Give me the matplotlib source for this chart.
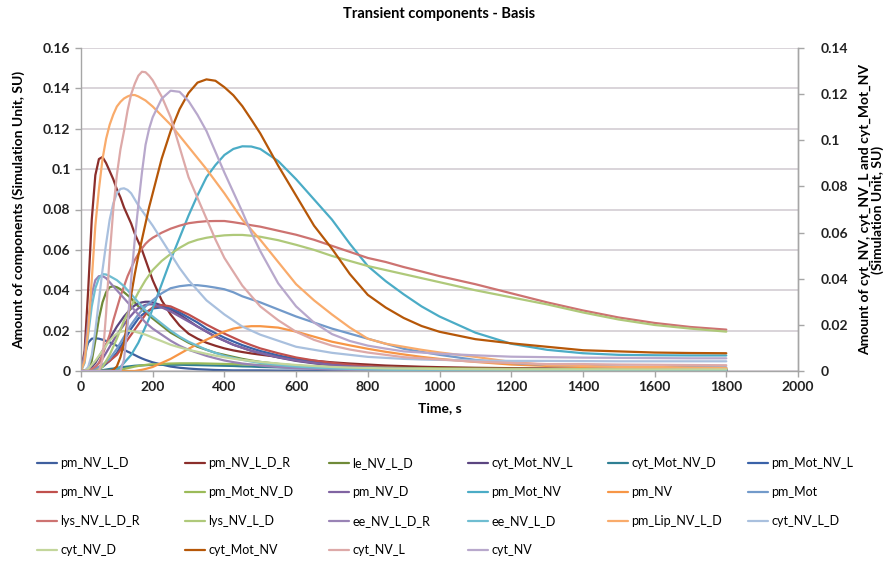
import matplotlib
matplotlib.use("Agg")
import matplotlib.pyplot as plt
from matplotlib.ticker import MultipleLocator, FuncFormatter

plt.rcParams['font.family'] = ['Lato', 'DejaVu Sans']

# Time axis (s)
time_s = [0, 10, 20, 30, 40, 50, 60, 70, 80, 90, 100, 110, 120, 130, 140, 150, 160, 170, 180, 190, 200,
          225, 250, 275, 300, 325, 350, 375, 400, 425, 450, 475, 500,
          550, 600, 650, 700, 750, 800, 850, 900, 950, 1000,
          1100, 1200, 1300, 1400, 1500, 1600, 1700, 1800]

# ---- primary-axis series ----
pm_NV_L_D = [0, .008, .014, .016, .0162, .016, .0155, .0149, .0142, .0134, .0125, .0115, .0105, .0096, .0088,
             .0079, .007, .0062, .0055, .0049, .0043,
             .0032, .0022, .0016, .0012, .0009, .0007, .0005, .0004, .0003, .0003, .0003, .0003,
             .0002, .0002, .0002, .0002, .0002, .0002, .0002, .0002, .0002, .0002,
             .0001, .0001, .0001, .0001, .0001, .0001, .0001, .0001]
pm_NV_L_D_R = [0, .01, .04, .075, .097, .105, .106, .103, .099, .095, .09, .086, .081, .077, .073, .068, .064,
               .06, .055, .05, .045,
               .035, .028, .0225, .0185, .016, .014, .0125, .0112, .0102, .0094, .0087, .0081,
               .007, .006, .0051, .0043, .0037, .0032, .0027, .0024, .0021, .0019,
               .0016, .0014, .0013, .0012, .0011, .0011, .001, .001]
le_NV_L_D = [0, 0, .001, .005, .015, .026, .034, .039, .0415, .042, .0415, .0405, .039, .0375, .036, .034,
             .032, .0305, .029, .0275, .026,
             .0225, .019, .0165, .014, .012, .0105, .009, .008, .007, .006, .0052, .0045,
             .0035, .0027, .0021, .0016, .0013, .001, .0008, .0007, .0006, .0005,
             .0004, .0004, .0003, .0003, .0003, .0003, .0003, .0003]
cyt_Mot_NV_L = [0, 0, .001, .002, .004, .007, .01, .013, .016, .019, .022, .0245, .027, .029, .031, .0325,
                .0335, .034, .0343, .0343, .034,
                .0325, .0305, .028, .025, .022, .0195, .017, .015, .013, .0115, .01, .0088,
                .0067, .005, .0038, .0029, .0022, .0017, .0014, .0012, .001, .0008,
                .0006, .0005, .0004, .0004, .0003, .0003, .0003, .0003]
cyt_Mot_NV_D = [0, 0, 0, 0, 0, .0002, .0004, .0007, .001, .0012, .0015, .0018, .002, .0022, .0024, .0026,
                .0027, .0028, .0029, .003, .003,
                .0031, .0031, .0031, .003, .0029, .0028, .0027, .0026, .0025, .0023, .0022, .002,
                .0018, .0016, .0015, .0013, .0012, .0011, .0011, .001, .001, .0009,
                .0008, .0008, .0007, .0007, .0007, .0007, .0007, .0007]
pm_Mot_NV_L = [0, 0, 0, 0, .0005, .001, .002, .0035, .005, .007, .009, .012, .015, .018, .021, .0235, .026,
               .0277, .029, .030, .031,
               .0315, .031, .029, .0265, .024, .021, .0187, .0165, .0146, .0128, .0113, .0099,
               .0077, .0059, .0046, .0035, .0027, .0021, .0016, .0013, .0011, .0009,
               .0007, .0005, .0004, .0004, .0003, .0003, .0003, .0003]
pm_NV_L = [0, 0, 0, 0, .001, .002, .003, .004, .005, .0065, .008, .0105, .013, .0155, .018, .0205, .023,
           .0255, .028, .030, .0315,
           .0327, .032, .030, .028, .0255, .023, .0207, .0185, .0165, .0145, .0128, .0112,
           .0088, .0067, .0052, .004, .0031, .0024, .0019, .0015, .0012, .001,
           .0008, .0006, .0005, .0005, .0004, .0004, .0004, .0004]
pm_Mot_NV_D = [0, 0, 0, 0, 0, 0, 0, 0, 0, .0001, .0003, .0006, .001, .0014, .0018, .0022, .0025, .0028,
               .003, .0032, .0033,
               .0035, .0037, .0038, .0038, .0038, .0037, .0036, .0035, .0034, .0033, .0031, .003,
               .0028, .0025, .0023, .0021, .002, .0018, .0016, .0015, .0014, .0013,
               .0012, .0011, .001, .001, .0009, .0009, .0009, .0009]
pm_NV_D = [0, 0, 0, .001, .002, .004, .006, .009, .012, .015, .018, .0205, .023, .0255, .0275, .0295, .031,
           .032, .0328, .033, .033,
           .0315, .0295, .027, .0245, .022, .0195, .017, .015, .013, .0115, .01, .0089,
           .0068, .0052, .004, .003, .0023, .0018, .0015, .0012, .001, .0008,
           .0006, .0005, .0004, .0004, .0003, .0003, .0003, .0003]
pm_Mot_NV = [0, 0, 0, 0, 0, 0, 0, 0, 0, .0005, .001, .002, .004, .006, .008, .011, .014, .018, .022, .026,
             .031,
             .043, .055, .066, .077, .087, .096, .102, .107, .11, .1113, .1112, .11,
             .104, .095, .085, .075, .063, .052, .0445, .038, .032, .027,
             .019, .0135, .0105, .0088, .008, .0078, .0077, .0077]
pm_NV = [0, 0, 0, 0, 0, 0, 0, 0, 0, 0, 0, 0, 0, 0, 0, 0, .0003, .0006, .001, .0015, .002,
         .004, .006, .0085, .011, .0133, .0155, .0176, .0195, .021, .0218, .0222, .0222,
         .0215, .0195, .017, .0145, .0127, .011, .0095, .0082, .007, .006,
         .0045, .0032, .0025, .002, .0017, .0015, .0013, .0012]
pm_Mot = [0, 0, 0, 0, .001, .002, .003, .0045, .006, .0085, .011, .014, .017, .02, .023, .0255, .028, .030,
          .032, .0335, .035,
          .0385, .041, .042, .0425, .0425, .042, .0413, .0405, .039, .037, .0355, .034,
          .0305, .027, .024, .021, .0185, .016, .0135, .011, .0095, .008,
          .0055, .004, .003, .0025, .0022, .002, .0019, .0018]
lys_NV_L_D_R = [0, 0, 0, .001, .002, .004, .008, .013, .018, .025, .031, .037, .042, .047, .051, .055, .058,
                .0607, .063, .0647, .066,
                .0685, .0705, .072, .0732, .0738, .0742, .0743, .0743, .0737, .073, .0722, .0715,
                .0695, .0675, .065, .062, .059, .056, .054, .0515, .0493, .047,
                .043, .0385, .034, .030, .0265, .0238, .0218, .0205]
lys_NV_L_D = [0, 0, 0, 0, 0, .001, .002, .005, .008, .012, .016, .0205, .025, .0285, .032, .0355, .039, .042,
              .045, .0475, .05,
              .0545, .058, .061, .0635, .065, .066, .0667, .0672, .0674, .0674, .067, .0665,
              .0648, .0625, .06, .057, .0545, .052, .05, .048, .046, .044,
              .04, .0365, .033, .029, .0255, .0228, .021, .0195]
ee_NV_L_D_R = [0, .008, .025, .038, .045, .047, .047, .046, .044, .042, .04, .038, .036, .034, .032, .030,
               .028, .026, .024, .0225, .021,
               .018, .015, .0125, .0105, .009, .0075, .0063, .0052, .0044, .0037, .0032, .0027,
               .002, .0014, .0011, .0008, .0006, .0005, .0004, .0004, .0003, .0003,
               .0002, .0002, .0002, .0002, .0002, .0002, .0002, .0002]
ee_NV_L_D = [0, .004, .018, .032, .041, .046, .048, .0478, .047, .046, .045, .0435, .042, .040, .038, .036,
             .034, .032, .030, .0285, .027,
             .0235, .02, .017, .0145, .0125, .0105, .009, .0075, .0065, .0055, .0047, .004,
             .003, .0022, .0017, .0013, .001, .0008, .0006, .0005, .0004, .0004,
             .0003, .0003, .0002, .0002, .0002, .0002, .0002, .0002]
pm_Lip_NV_L_D = [0, .005, .02, .045, .072, .09, .105, .115, .122, .127, .131, .1333, .135, .136, .1367,
                 .1367, .136, .135, .134, .1325, .131,
                 .1265, .122, .1165, .111, .1055, .1, .094, .088, .0815, .075, .07, .065,
                 .054, .043, .035, .028, .0215, .016, .0135, .012, .0105, .0092,
                 .007, .0045, .003, .0025, .002, .002, .0017, .0015]
cyt_NV_L_D = [0, 0, .002, .008, .02, .035, .05, .063, .075, .083, .088, .0902, .0905, .0897, .088, .085,
              .082, .0795, .077, .0745, .072,
              .065, .058, .051, .045, .04, .035, .0315, .028, .025, .022, .02, .018,
              .015, .012, .0105, .009, .008, .007, .0065, .006, .0057, .0055,
              .0052, .005, .005, .0049, .0048, .0048, .0048, .0048]
cyt_NV_D = [0, 0, .001, .003, .005, .0075, .01, .0125, .015, .017, .0185, .0193, .0198, .0199, .0198, .0195,
            .019, .0185, .018, .0173, .0165,
            .0148, .013, .0117, .0105, .0095, .0085, .0076, .0068, .0061, .0055, .005, .0045,
            .0037, .003, .0025, .002, .0017, .0015, .0013, .0012, .0011, .001,
            .0009, .0008, .0008, .0008, .0008, .0008, .0008, .0008]

# ---- secondary-axis series ----
cyt_Mot_NV = [0, 0, 0, 0, 0, 0, 0, 0, 0, .0005, .002, .006, .012, .022, .033, .042, .05, .057, .064, .071,
              .077,
              .092, .104, .1135, .1205, .125, .1264, .1258, .123, .1195, .1148, .109, .103,
              .089, .076, .063, .053, .042, .033, .0275, .023, .0195, .017,
              .0138, .012, .0105, .009, .0085, .008, .0078, .0077]
cyt_NV_L = [0, 0, 0, 0, 0, 0, .005, .025, .05, .07, .085, .096, .104, .113, .12, .1245, .128, .1297, .1295,
            .128, .126,
            .119, .11, .097, .084, .075, .066, .057, .049, .043, .037, .0325, .028,
            .022, .017, .0135, .011, .0093, .008, .007, .006, .0055, .005,
            .004, .0035, .003, .003, .0028, .0027, .0026, .0025]
cyt_NV = [0, 0, 0, 0, 0, 0, 0, 0, 0, 0, 0, 0, .005, .02, .04, .057, .072, .086, .098, .105, .11,
          .118, .1215, .121, .117, .111, .104, .095, .086, .0775, .069, .06, .052,
          .038, .028, .021, .016, .013, .011, .0097, .0085, .008, .0075,
          .0068, .0062, .006, .0058, .0057, .0056, .0055, .0055]

series_names = ["pm_NV_L_D", "pm_NV_L_D_R", "le_NV_L_D", "cyt_Mot_NV_L", "cyt_Mot_NV_D", "pm_Mot_NV_L",
                "pm_NV_L", "pm_Mot_NV_D", "pm_NV_D", "pm_Mot_NV", "pm_NV", "pm_Mot",
                "lys_NV_L_D_R", "lys_NV_L_D", "ee_NV_L_D_R", "ee_NV_L_D", "pm_Lip_NV_L_D", "cyt_NV_L_D",
                "cyt_NV_D", "cyt_Mot_NV", "cyt_NV_L", "cyt_NV"]
series_values = [pm_NV_L_D, pm_NV_L_D_R, le_NV_L_D, cyt_Mot_NV_L, cyt_Mot_NV_D, pm_Mot_NV_L,
                 pm_NV_L, pm_Mot_NV_D, pm_NV_D, pm_Mot_NV, pm_NV, pm_Mot,
                 lys_NV_L_D_R, lys_NV_L_D, ee_NV_L_D_R, ee_NV_L_D, pm_Lip_NV_L_D, cyt_NV_L_D,
                 cyt_NV_D, cyt_Mot_NV, cyt_NV_L, cyt_NV]
secondary = {"cyt_Mot_NV", "cyt_NV_L", "cyt_NV"}
colors = ["#3F5F9E", "#8B2E2B", "#6F8A38", "#5B4580", "#2F7F93", "#3A62A8",
          "#C0504D", "#9BBB59", "#8064A2", "#4BACC6", "#F79646", "#729ACA",
          "#CD7371", "#AFC97A", "#9983B5", "#6FBDD1", "#F9AB6B", "#A9C0DE",
          "#C3D69B", "#B65708", "#DDA9A8", "#B8A8CC"]

W, H = 891, 561
L, R, T, B = 81, 798, 48, 371
fig = plt.figure(figsize=(W / 100, H / 100), dpi=100)
ax = fig.add_axes([L / W, 1 - B / H, (R - L) / W, (B - T) / H])
ax2 = ax.twinx()

grid_c = "#D9D4D9"
ax.set_xlim(0, 2000)
ax.set_ylim(0, 0.16)
ax2.set_ylim(0, 0.14)
ax.yaxis.set_major_locator(MultipleLocator(0.02))
ax2.yaxis.set_major_locator(MultipleLocator(0.02))
ax.xaxis.set_major_locator(MultipleLocator(200))
ax.grid(axis='y', color=grid_c, lw=1.4)
ax.set_axisbelow(True)

fmt = FuncFormatter(lambda v, p: "0" if abs(v) < 1e-12 else ("%g" % round(v, 4)))
ax.yaxis.set_major_formatter(fmt)
ax2.yaxis.set_major_formatter(fmt)

handles = {}
for name, vals, c in zip(series_names, series_values, colors):
    target = ax2 if name in secondary else ax
    ln, = target.plot(time_s, vals, color=c, lw=1.6, label=name, solid_capstyle='round',
                      solid_joinstyle='round')
    handles[name] = ln

for a in (ax, ax2):
    a.spines['top'].set_visible(False)
    for s in ("left", "bottom", "right"):
        a.spines[s].set_color("#A6A6A6")
        a.spines[s].set_linewidth(1.0)
    a.tick_params(colors="#A6A6A6", labelcolor="#222222", length=4, width=1)
ax2.spines['left'].set_visible(False)
ax2.spines['bottom'].set_visible(False)
ax2.tick_params(axis='y', pad=12)

for lbl in ax.get_xticklabels() + ax.get_yticklabels() + ax2.get_yticklabels():
    lbl.set_fontweight('bold')
    lbl.set_fontsize(10)

ax.set_xlabel("Time, s", fontsize=10, fontweight='bold', labelpad=6)
ax.set_ylabel("Amount of components (Simulation Unit, SU)", fontsize=10, fontweight='bold', labelpad=13)
ax2.set_ylabel("Amount of cyt_NV, cyt_NV_L and cyt_Mot_NV\n(Simulation Unit, SU)", fontsize=10,
               fontweight='bold', labelpad=8, linespacing=1.0)
fig.text((L + R) / 2 / W, 1 - 14 / H, "Transient components - Basis", ha='center', va='center',
         fontsize=10.5, fontweight='bold')

# legend: 6 columns, entries ordered row-wise, each column placed separately
ncol = 6
col_x = [37, 185, 329, 468, 608, 748]
for c in range(ncol):
    names = series_names[c::ncol]
    lg = fig.legend([handles[n] for n in names], names, loc='upper left',
                    bbox_to_anchor=(col_x[c] / W, 1 - 457 / H), frameon=False, fontsize=9,
                    handlelength=1.6, handletextpad=0.25, labelspacing=1.36,
                    borderpad=0, borderaxespad=0)

fig.savefig("out.png", dpi=100)
